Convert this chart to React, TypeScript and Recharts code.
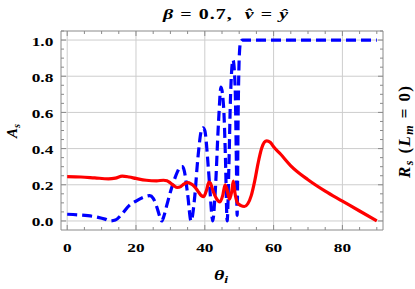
import { LineChart, Line, XAxis, YAxis, CartesianGrid } from "recharts";

// red solid curve: R_s (L_m = 0)
const redTheta = [
  0, 4, 8, 12, 14, 16, 18, 20, 23, 26, 28, 29, 30, 31, 32, 33, 34, 35, 36, 37, 38, 39, 39.7, 40.5, 41.2,
  41.6, 42.5, 43.5, 44.4, 45.2, 45.9, 46.5, 47.2, 47.8, 48.3, 48.8, 49.5, 50.5, 51.5, 52.5, 53.5, 54.5,
  55.5, 56.5, 57.3, 58, 59, 60, 62, 65, 70, 75, 80, 85, 90,
];
const redValue = [
  0.245, 0.243, 0.238, 0.233, 0.237, 0.248, 0.243, 0.235, 0.225, 0.222, 0.225, 0.222, 0.21, 0.195, 0.185,
  0.19, 0.205, 0.212, 0.205, 0.19, 0.165, 0.14, 0.135, 0.17, 0.215, 0.21, 0.16, 0.12, 0.105, 0.14, 0.2,
  0.17, 0.12, 0.16, 0.22, 0.15, 0.1, 0.085, 0.08, 0.095, 0.14, 0.22, 0.32, 0.4, 0.435, 0.443, 0.435, 0.41,
  0.37, 0.305, 0.228, 0.165, 0.11, 0.055, 0.0,
];

// blue dashed curve: A_s
const blueTheta = [
  0, 3, 6, 9, 11, 12.5, 14, 16, 18, 20, 22, 24, 25, 26, 27, 27.5, 28, 29, 30, 31, 32, 33, 33.5, 34, 35,
  36, 37, 38, 39, 39.5, 40, 41, 41.5, 42, 42.3, 43, 44, 44.7, 45.5, 46, 46.5, 47, 47.5, 48.2, 48.8, 49.2,
  49.4, 49.7, 50, 50.4, 51, 60, 70, 80, 90,
];
const blueValue = [
  0.037, 0.034, 0.029, 0.02, 0.01, 0.0, 0.005, 0.04, 0.085, 0.11, 0.13, 0.14, 0.125, 0.08, 0.02, 0.0,
  0.02, 0.09, 0.16, 0.22, 0.27, 0.3, 0.3, 0.28, 0.15, 0.0, 0.12, 0.35, 0.5, 0.515, 0.5, 0.3, 0.17, 0.04,
  0.0, 0.15, 0.55, 0.74, 0.62, 0.35, 0.0, 0.3, 0.7, 0.89, 0.75, 0.3, 0.03, 0.6, 0.9, 0.99, 1.0, 1.0, 1.0,
  1.0, 1.0,
];

const xMajor = [0, 20, 40, 60, 80];
const xTicks = [0, 5, 10, 15, 20, 25, 30, 35, 40, 45, 50, 55, 60, 65, 70, 75, 80, 85, 90];
const yMajor = [0, 0.2, 0.4, 0.6, 0.8, 1.0];
const yTicks = [
  0, 0.05, 0.1, 0.15, 0.2, 0.25, 0.3, 0.35, 0.4, 0.45, 0.5, 0.55, 0.6, 0.65, 0.7, 0.75, 0.8, 0.85, 0.9,
  0.95, 1.0, 1.05,
];

const redData = redTheta.map((t, i) => ({ t, v: redValue[i] }));
const blueData = blueTheta.map((t, i) => ({ t, v: blueValue[i] }));

const FRAME = "#8a8a8a";
const GRID = "#cdcdcd";
const SERIF = '"Liberation Serif", "Times New Roman", serif';
const STRETCH = 1.33;

const isMajor = (list: number[], v: number) => list.some((m) => Math.abs(m - v) < 1e-9);

const BottomTick = ({ x, y, payload }: any) => {
  const major = isMajor(xMajor, payload.value);
  return (
    <g>
      <line x1={x} x2={x} y1={y} y2={y - (major ? 5 : 3)} stroke={FRAME} />
      {major && (
        <text
          transform={`translate(${x},${y + 21.5}) scale(${STRETCH},1)`}
          textAnchor="middle"
          fontFamily={SERIF}
          fontWeight="bold"
          fontSize={13}
          fill="#000"
        >
          {payload.value}
        </text>
      )}
    </g>
  );
};

const TopTick = ({ x, y, payload }: any) => {
  const major = isMajor(xMajor, payload.value);
  return <line x1={x} x2={x} y1={y} y2={y + (major ? 5 : 3)} stroke={FRAME} />;
};

const LeftTick = ({ x, y, payload }: any) => {
  const major = isMajor(yMajor, payload.value);
  return (
    <g>
      <line x1={x} x2={x + (major ? 5 : 3)} y1={y} y2={y} stroke={FRAME} />
      {major && (
        <text
          transform={`translate(${x - 7.7},${y + 5.5}) scale(${STRETCH},1)`}
          textAnchor="end"
          fontFamily={SERIF}
          fontWeight="bold"
          fontSize={13}
          fill="#000"
        >
          {payload.value.toFixed(1)}
        </text>
      )}
    </g>
  );
};

const RightTick = ({ x, y, payload }: any) => {
  const major = isMajor(yMajor, payload.value);
  return <line x1={x} x2={x - (major ? 5 : 3)} y1={y} y2={y} stroke={FRAME} />;
};

const labelStyle = { fontFamily: SERIF, fontWeight: "bold" as const, fontSize: 15, whiteSpace: "pre" as const };

export default function App() {
  return (
    <div style={{ position: "absolute", left: 0, top: 0, width: 415, height: 289, background: "#fff" }}>
      <LineChart width={415} height={289} data={redData} margin={{ top: 0, right: 0, bottom: 0, left: 0 }}>
        <CartesianGrid
          xAxisId="bottom"
          yAxisId="left"
          stroke={GRID}
          verticalValues={xMajor}
          horizontalValues={yMajor}
        />
        <XAxis
          xAxisId="bottom"
          dataKey="t"
          type="number"
          domain={[-1.8, 91.8]}
          allowDataOverflow
          ticks={xTicks}
          interval={0}
          height={59}
          tickSize={0}
          tickMargin={0}
          stroke={FRAME}
          tick={<BottomTick />}
        />
        <XAxis
          xAxisId="top"
          orientation="top"
          dataKey="t"
          type="number"
          domain={[-1.8, 91.8]}
          allowDataOverflow
          ticks={xTicks}
          interval={0}
          height={31}
          tickSize={0}
          tickMargin={0}
          stroke={FRAME}
          tick={<TopTick />}
        />
        <YAxis
          yAxisId="left"
          type="number"
          domain={[-0.05, 1.05]}
          allowDataOverflow
          ticks={yTicks}
          interval={0}
          width={61}
          tickSize={0}
          tickMargin={0}
          stroke={FRAME}
          tick={<LeftTick />}
        />
        <YAxis
          yAxisId="right"
          orientation="right"
          type="number"
          domain={[-0.05, 1.05]}
          allowDataOverflow
          ticks={yTicks}
          interval={0}
          width={32}
          tickSize={0}
          tickMargin={0}
          stroke={FRAME}
          tick={<RightTick />}
        />
        <Line
          xAxisId="bottom"
          yAxisId="left"
          data={blueData}
          dataKey="v"
          type="monotone"
          stroke="#0000ff"
          strokeWidth={3.2}
          strokeDasharray="10 5"
          dot={false}
          isAnimationActive={false}
        />
        <Line
          xAxisId="bottom"
          yAxisId="left"
          data={redData}
          dataKey="v"
          type="monotone"
          stroke="#ff0000"
          strokeWidth={3.2}
          dot={false}
          isAnimationActive={false}
        />
      </LineChart>
      <svg
        width={415}
        height={289}
        style={{ position: "absolute", left: 0, top: 0, pointerEvents: "none" }}
      >
        <text
          transform={`translate(225.5,18.5) scale(${STRETCH},1)`}
          textAnchor="middle"
          textLength={94}
          lengthAdjust="spacing"
          style={labelStyle}
        >
          <tspan fontStyle="italic">β</tspan>
          <tspan>{" = 0.7,  "}</tspan>
          <tspan fontStyle="italic">{"v\u0302"}</tspan>
          <tspan>{" = "}</tspan>
          <tspan fontStyle="italic">ŷ</tspan>
        </text>
        <text transform={`translate(221,280) scale(${STRETCH},1)`} textAnchor="middle" style={labelStyle}>
          <tspan fontStyle="italic">θ</tspan>
          <tspan fontStyle="italic" fontSize={10.5} dy={3}>i</tspan>
        </text>
        <text transform="translate(17,131) rotate(-90)" textAnchor="middle" style={labelStyle}>
          <tspan fontStyle="italic">A</tspan>
          <tspan fontStyle="italic" fontSize={10.5} dy={3}>s</tspan>
        </text>
        <text
          transform="translate(410,132) rotate(-90)"
          textAnchor="middle"
          textLength={92}
          lengthAdjust="spacing"
          style={{ ...labelStyle, fontSize: 17 }}
        >
          <tspan fontStyle="italic">R</tspan>
          <tspan fontStyle="italic" fontSize={12} dy={3}>s</tspan>
          <tspan dy={-3}>{" ("}</tspan>
          <tspan fontStyle="italic">L</tspan>
          <tspan fontStyle="italic" fontSize={12} dy={3}>m</tspan>
          <tspan dy={-3}>{" = 0)"}</tspan>
        </text>
      </svg>
    </div>
  );
}
